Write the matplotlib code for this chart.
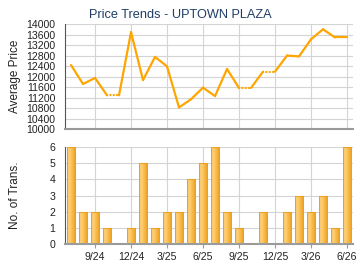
import numpy as np
import matplotlib.pyplot as plt
from matplotlib.colors import LinearSegmentedColormap

plt.rcParams['font.family'] = ['Liberation Sans', 'DejaVu Sans']

# months 7/24 .. 6/26
months = ['7/24', '8/24', '9/24', '10/24', '11/24', '12/24', '1/25', '2/25', '3/25',
          '4/25', '5/25', '6/25', '7/25', '8/25', '9/25', '10/25', '11/25', '12/25',
          '1/26', '2/26', '3/26', '4/26', '5/26', '6/26']
price = [12450, 11730, 11960, 11300, 11300, 13700, 11880, 12760, 12400, 10840,
         11150, 11590, 11270, 12300, 11580, 11580, 12200, 12200, 12810, 12780,
         13430, 13810, 13500, 13500]
# months with no transaction carry the previous price (drawn dotted)
missing = [4, 15, 17]
trans = [6, 2, 2, 1, 0, 1, 5, 1, 2, 2, 4, 5, 6, 2, 1, 0, 2, 0, 2, 3, 2, 3, 1, 6]
tick_labels = ['9/24', '12/24', '3/25', '6/25', '9/25', '12/25', '3/26', '6/26']

x = np.arange(len(months))
tick_pos = [months.index(t) for t in tick_labels]

fig = plt.figure(figsize=(3.6, 2.7), dpi=100)
ax1 = fig.add_axes([0.1806, 0.5204, 0.8, 0.3896])
ax2 = fig.add_axes([0.1806, 0.0974, 0.8, 0.357])

grid_c = '#d4d4d4'
line_c = '#ffa500'

for ax in (ax1, ax2):
    ax.set_xlim(-0.5, len(months) - 0.5)
    ax.set_xticks(tick_pos)
    ax.grid(True, color=grid_c, linewidth=0.8)
    ax.set_axisbelow(True)
    for s in ['top', 'right']:
        ax.spines[s].set_visible(False)
    ax.spines['left'].set_color('#555555')
    ax.spines['left'].set_linewidth(0.8)
    ax.spines['bottom'].set_color('#9a9a9a')
    ax.spines['bottom'].set_linewidth(1.5)
    ax.tick_params(axis='y', length=0, pad=7, labelsize=7.6, colors='#222222')

# price line
for i in range(1, len(x)):
    if i in missing:
        ax1.plot(x[i-1:i+1], price[i-1:i+1], color=line_c, linewidth=1.6,
                 linestyle=(0, (0.1, 1.4)), dash_capstyle='round')
    else:
        ax1.plot(x[i-1:i+1], price[i-1:i+1], color=line_c, linewidth=1.6,
                 solid_capstyle='round')
ax1.set_ylim(10000, 14000)
ax1.set_yticks(np.arange(10000, 14001, 400))
ax1.tick_params(axis='x', length=0, labelbottom=False)

# transactions bars with a left-to-right gradient
cmap = LinearSegmentedColormap.from_list(
    'bar', [(0, '#f2ae3a'), (0.2, '#fcd37f'), (0.5, '#f9c258'),
            (0.85, '#f2a82c'), (1, '#e39200')])
grad = np.linspace(0, 1, 64).reshape(1, -1)
bars = ax2.bar(x, trans, width=0.74, color='none', edgecolor='#eba11c', linewidth=0.7,
               zorder=3)
for b in bars:
    if b.get_height() == 0:
        continue
    im = ax2.imshow(grad, cmap=cmap, aspect='auto', zorder=2,
                    extent=[b.get_x(), b.get_x() + b.get_width(), 0, b.get_height()])
    im.set_clip_path(b)
ax2.set_xlim(-0.5, len(months) - 0.5)
ax2.set_ylim(0, 6)
ax2.set_yticks(range(0, 7))
ax2.set_xticklabels(tick_labels)
ax2.tick_params(axis='x', length=3, color='#9a9a9a', pad=3, labelsize=7.6,
                labelcolor='#222222')

fig.text(0.5, 0.943, 'Price Trends - UPTOWN PLAZA', ha='center', va='center',
         fontsize=9.2, color='#1f3d66')
fig.text(15 / 360, 1 - 76.5 / 270, 'Average Price', rotation=90, ha='center',
         va='center', fontsize=8.5, color='#222222')
fig.text(15 / 360, 1 - 195 / 270, 'No. of Trans.', rotation=90, ha='center',
         va='center', fontsize=8.5, color='#222222')

fig.savefig('out.png', dpi=100)
